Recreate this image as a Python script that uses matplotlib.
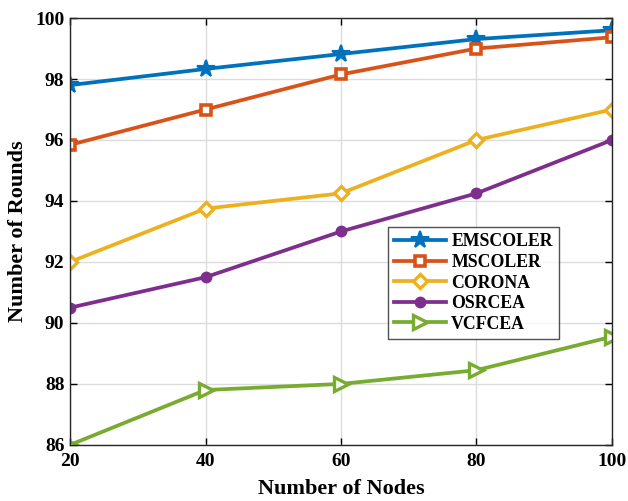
import matplotlib
matplotlib.use("Agg")
import matplotlib.pyplot as plt

plt.rcParams['font.family'] = ['Liberation Serif', 'DejaVu Serif']
plt.rcParams['font.weight'] = 'bold'

nodes = [20, 40, 60, 80, 100]
emscoler = [97.8, 98.33, 98.82, 99.31, 99.6]
mscoler = [95.84, 97.0, 98.15, 99.0, 99.37]
corona = [92.0, 93.75, 94.25, 96.0, 97.0]
osrcea = [90.5, 91.5, 93.0, 94.25, 96.0]
vcfcea = [86.0, 87.8, 88.0, 88.45, 89.55]

series = [
    ("EMSCOLER", emscoler, "#0072BD", "*", "#0072BD", 13, 1.5),
    ("MSCOLER", mscoler, "#D95319", "s", "white", 7, 2.6),
    ("CORONA", corona, "#EDB120", "D", "white", 7.5, 2.4),
    ("OSRCEA", osrcea, "#7E2F8E", "o", "#7E2F8E", 7, 1.5),
    ("VCFCEA", vcfcea, "#77AC30", ">", "white", 10, 2.4),
]

fig = plt.figure(figsize=(6.28, 5.01), dpi=100)
ax = fig.add_axes([0.1115, 0.112, 0.863, 0.852])
for name, vals, c, m, mfc, ms, mew in series:
    ax.plot(nodes, vals, color=c, lw=2.7, marker=m, markersize=ms,
            markerfacecolor=mfc, markeredgecolor=c, markeredgewidth=mew, label=name)

ax.set_xlim(20, 100)
ax.set_ylim(86, 100)
ax.set_xticks([20, 40, 60, 80, 100])
ax.set_yticks([86, 88, 90, 92, 94, 96, 98, 100])
ax.grid(True, color='#dcdcdc', lw=1)
ax.set_axisbelow(True)
ax.tick_params(direction='in', top=True, right=True, labelsize=14, length=5, width=1, pad=4)
ax.tick_params(axis='x', pad=6)
for lab in ax.get_xticklabels() + ax.get_yticklabels():
    lab.set_fontweight('bold')
for s in ax.spines.values():
    s.set_linewidth(1)
    s.set_color('#262626')
ax.set_xlabel("Number of Nodes", fontsize=16, fontweight='bold', labelpad=6)
ax.set_ylabel("Number of Rounds", fontsize=16, fontweight='bold', labelpad=5)

leg = ax.legend(loc='upper left', bbox_to_anchor=(0.587, 0.51), fontsize=12.8,
                frameon=True, fancybox=False, edgecolor='#262626', handlelength=2.9,
                borderpad=0.35, labelspacing=0.2, handletextpad=0.3, borderaxespad=0)
leg.get_frame().set_linewidth(1)
for t in leg.get_texts():
    t.set_fontweight('bold')

fig.savefig("out.png", dpi=100)
